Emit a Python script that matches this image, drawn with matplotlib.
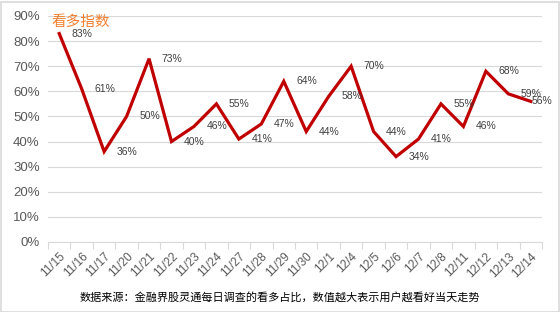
import matplotlib
matplotlib.use("Agg")
import matplotlib.pyplot as plt
from matplotlib.patches import Rectangle
import numpy as np

plt.rcParams['font.family'] = ['Liberation Sans', 'Noto Sans CJK SC', 'DejaVu Sans']

dates = ["11/15", "11/16", "11/17", "11/20", "11/21", "11/22", "11/23", "11/24",
         "11/27", "11/28", "11/29", "11/30", "12/1", "12/4", "12/5", "12/6",
         "12/7", "12/8", "12/11", "12/12", "12/13", "12/14"]
values = [83, 61, 36, 50, 73, 40, 46, 55, 41, 47, 64, 44, 58, 70, 44, 34, 41, 55, 46, 68, 59, 56]
yticks = [0, 10, 20, 30, 40, 50, 60, 70, 80, 90]
title = "看多指数"
footer = "数据来源：金融界股灵通每日调查的看多占比，数值越大表示用户越看好当天走势"

fig = plt.figure(figsize=(5.6, 3.12), dpi=100)
ax = fig.add_axes([48/560, 1-242/312, (542-48)/560, (242-16)/312])

x = np.arange(len(dates))
ax.plot(x, values, color='#C00000', lw=2.3, solid_joinstyle='miter', clip_on=False, zorder=3)

n = len(dates)
for i, (xi, v) in enumerate(zip(x, values)):
    off = 9 if i < n - 1 else 0.8
    ax.annotate(f"{v}%", (xi, v), xytext=(off, 0), textcoords='offset points',
                ha='left', va='center', fontsize=7.5, color='#404040', zorder=4)

ax.set_xlim(-0.5, n - 0.5)
ax.set_ylim(0, 90)
ax.set_yticks(yticks)
ax.set_yticklabels([f"{t}%" for t in yticks], fontsize=9.5, color='#595959')
ax.yaxis.set_tick_params(length=0, pad=6)
ax.grid(axis='y', color='#D9D9D9', lw=0.8)
ax.set_axisbelow(True)

ax.set_xticks(x)
ax.set_xticklabels(dates, rotation=45, ha='right', rotation_mode='anchor',
                   fontsize=8.5, color='#595959')
ax.xaxis.set_tick_params(which='major', length=0, pad=6)
ax.set_xticks(np.arange(-0.5, n, 1.0), minor=True)
ax.xaxis.set_tick_params(which='minor', length=5, color='#D9D9D9', width=0.8)

for s in ['left', 'right', 'top']:
    ax.spines[s].set_visible(False)
ax.spines['bottom'].set_color('#D9D9D9')
ax.spines['bottom'].set_linewidth(0.8)

fig.text(52/560, 1-22/312, title, fontsize=10.5, color='#F08030',
         family=['Noto Sans CJK SC', 'DejaVu Sans'], ha='left', va='center')
fig.text(280/560, 1-297/312, footer, fontsize=8, color='black',
         family=['Noto Sans CJK SC', 'DejaVu Sans'], ha='center', va='center')

fig.add_artist(Rectangle((0.5/560, 0.5/312), 1-2/560, 1-2/312, transform=fig.transFigure,
                         fill=False, edgecolor='#D9D9D9', lw=1.2))

fig.savefig("out.png", dpi=100)
